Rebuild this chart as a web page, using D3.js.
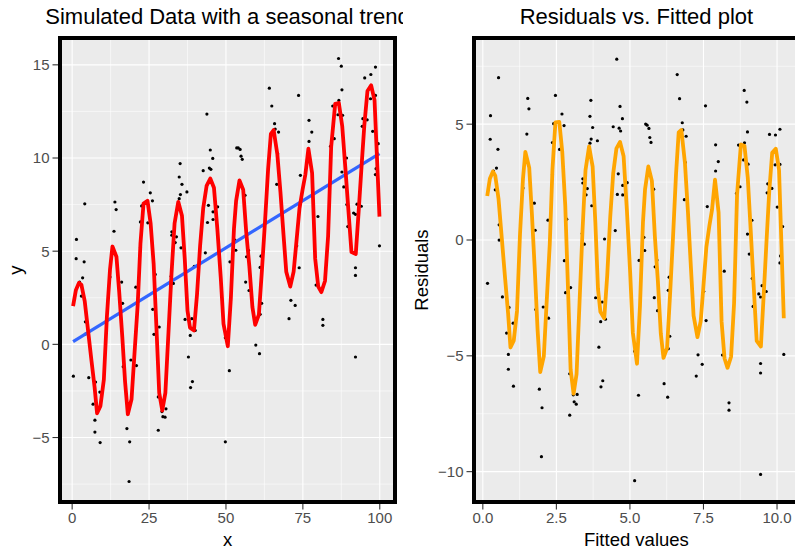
<!DOCTYPE html>
<html>
<head>
<meta charset="utf-8">
<script src="https://cdn.jsdelivr.net/npm/d3@7"></script>
<style>
  body { margin: 0; background: #ffffff; }
  text { font-family: "Liberation Sans", Arial, sans-serif; }
</style>
</head>
<body>
<div id="main"></div>
<script>

// simulated points (x, y)
var pointX = [1.4, 4.1, 1.3, 3.9, 13.9, 14.3, 13.6, 23.2, 25.4, 26.1, 22.6, 22.2, 24.6, 22.2,
  35.1, 34.8, 35.7, 37.3, 35.2, 34.8, 32.4, 32.4, 33.9, 33.5, 35.4,
  43.8, 44.9, 45.7, 44.6, 45.1, 42.6, 44.3, 47.3, 45.8, 44.0, 45.8, 43.3,
  53.5, 54.0, 54.6, 54.9, 55.3, 56.2, 52.9, 53.2, 51.3, 57.3, 56.7, 61.4, 61.1,
  64.1, 64.9, 65.8, 66.0, 67.1, 66.8, 66.5, 73.6, 77.0, 77.9, 77.0, 76.6, 74.2, 79.9, 73.8,
  86.6, 87.5, 87.7, 86.7, 84.7, 86.4, 87.9, 84.0, 85.2, 89.2, 87.7, 88.3, 89.3, 89.6,
  91.5, 92.1, 92.6, 94.0, 95.1, 97.1, 98.6, 97.0, 98.6, 94.5, 95.9, 94.3, 97.7, 99.5,
  98.8, 98.6, 99.9, 92.1, 73.0,
  3.4, 2.4, 3.0, 4.3, 0.4, 5.4, 7.6, 6.8, 7.4, 7.4, 9.1, 12.3, 16.1, 16.4, 20.7,
  16.6, 19.1, 20.9, 17.8, 18.7, 18.5, 27.0, 26.2, 28.3, 26.6, 28.0, 29.2, 29.5, 30.2, 30.5, 28.0,
  32.9, 32.2, 36.7, 38.9, 40.0, 38.4, 37.8, 39.1, 38.5, 49.8, 51.1, 49.8,
  56.4, 57.5, 61.6, 61.1, 59.7, 60.9, 71.1, 72.5, 70.5, 79.3, 79.8, 81.5, 81.5, 92.1, 92.1,
  4.3, 9.0, 39.7];
var pointY = [5.63, 7.54, 4.6, 4.43, 7.64, 7.23, 6.07, 8.71, 8.13, 7.70, 7.43, 6.57, 6.52, 5.18,
  9.70, 8.98, 8.59, 8.18, 8.04, 7.82, 6.04, 5.86, 5.77, 5.46, 5.18,
  12.36, 10.43, 9.98, 9.46, 9.39, 9.32, 7.46, 7.38, 7.11, 6.54, 6.70, 4.91,
  10.54, 10.54, 10.46, 10.10, 9.93, 8.00, 5.59, 5.05, 4.43, 5.05, 4.70, 4.73, 4.13,
  13.75, 12.79, 11.84, 11.55, 11.39, 10.23, 8.59, 13.36, 12.02, 11.39, 10.89, 9.93, 9.07, 6.86, 4.11,
  15.34, 14.93, 13.66, 13.09, 12.79, 12.32, 12.29, 10.63, 11.04, 10.00, 9.25, 8.45, 7.50, 6.32,
  7.05, 6.98, 7.52, 7.41, 14.30, 14.48, 14.88, 13.18, 13.36, 12.11, 12.05, 11.70, 11.43, 10.77,
  9.43, 9.11, 5.29, 4.11, 5.29,
  3.57, 3.34, 2.59, 1.21, -1.71, -1.79, -2.02, -3.21, -4.07, -4.71, -5.27, 3.61, 3.34, 2.20, 3.07,
  -1.20, -0.84, -1.14, -4.52, -5.23, -7.36, 3.75, 1.88, 0.93, 0.54, -2.82, -3.61, -3.88, -3.91, -3.46, -4.61,
  3.27, 3.66, 1.34, 1.38, 0.75, 0.48, -0.68, -2.00, -2.32, 0.36, -1.41, -5.23,
  3.34, 2.89, 2.20, 1.61, -0.04, -0.50, 2.36, 2.09, 1.38, 3.18, 3.25, 1.34, 1.02, 3.70, -0.68,
  0.55, -2.56, 4.18];

// seasonal fit (red line) vertices
var seasonalX = [0.3, 1.2, 2.2, 3.0, 4.1, 5.2, 6.3, 7.3, 8.1, 9.2, 10.3, 11.3, 12.3, 13.1, 14.4, 15.3,
  16.3, 17.2, 18.1, 19.3, 20.3, 21.3, 22.2, 23.2, 24.5, 25.5, 26.5, 27.4, 28.3, 29.3, 30.3, 31.3,
  32.3, 33.3, 34.5, 35.7, 36.6, 37.5, 38.3, 39.6, 40.6, 41.6, 42.6, 43.7, 44.9, 46.1, 47.2, 48.3,
  49.2, 50.6, 51.6, 52.6, 53.3, 54.4, 55.6, 56.6, 57.6, 58.6, 59.5, 60.7, 61.7, 62.7, 63.7, 64.6,
  65.5, 66.7, 67.7, 68.7, 69.6, 70.9, 72.0, 72.9, 73.9, 74.9, 75.8, 76.8, 78.0, 79.0, 80.0, 81.0,
  82.2, 83.2, 84.2, 85.5, 86.7, 87.8, 88.8, 89.8, 90.8, 92.2, 93.2, 94.1, 95.0, 96.0, 97.2, 98.3, 99.9];
var seasonalY = [2.05, 2.9, 3.3, 3.2, 2.3, 0.7, -0.9, -2.3, -3.7, -3.3, -1.9, 1.5, 4.0, 5.25, 4.7, 2.8,
  0.4, -2.0, -3.75, -2.95, -0.4, 2.1, 5.4, 7.55, 7.7, 6.5, 4.3, 0.9, -2.6, -3.55, -2.6, 0.6,
  3.8, 6.5, 7.65, 6.9, 4.6, 1.8, 0.9, 0.75, 2.7, 5.3, 7.3, 8.5, 8.9, 8.4, 6.2, 3.6,
  1.1, -0.1, 2.5, 6.2, 7.7, 8.8, 8.3, 6.0, 4.2, 2.0, 1.05, 1.6, 4.0, 6.6, 9.4, 11.3,
  11.5, 10.2, 8.2, 5.9, 3.9, 3.1, 3.9, 5.5, 7.3, 8.3, 9.1, 10.5, 9.2, 4.6, 3.1, 2.8,
  3.4, 5.8, 10.6, 12.9, 12.95, 11.7, 9.5, 7.2, 4.95, 4.85, 7.3, 9.6, 11.8, 13.6, 13.9, 13.1, 6.85];

// linear trend (blue line) end points
var trendX = [0.3, 99.9];
var trendY = [0.15, 10.23];

var leftXTicks = [0, 25, 50, 75, 100];
var leftYTicks = [-5, 0, 5, 10, 15];
var rightXTicks = [0, 2.5, 5, 7.5, 10];
var rightYTicks = [-10, -5, 0, 5];

var titles = ["Simulated Data with a seasonal trend", "Residuals vs. Fitted plot"];

// fitted values / residuals from the trend line
var slope = (trendY[1] - trendY[0]) / (trendX[1] - trendX[0]);
var intercept = trendY[0] - slope * trendX[0];
function fit(x) { return intercept + slope * x; }

var points = pointX.map(function(x, i) { return {x: x, y: pointY[i]}; });
var seasonal = seasonalX.map(function(x, i) { return {x: x, y: seasonalY[i]}; });
var trend = trendX.map(function(x, i) { return {x: x, y: trendY[i]}; });
var resid = points.map(function(d) { return {x: fit(d.x), y: d.y - fit(d.x)}; });
var residLine = seasonal.map(function(d) { return {x: fit(d.x), y: d.y - fit(d.x)}; });

var width = 795, height = 550;

var svg = d3.select("#main").append("svg")
  .attr("width", width)
  .attr("height", height);

var defs = svg.append("defs");
defs.append("clipPath").attr("id", "leftclip")
  .append("rect").attr("x", 0).attr("y", 0).attr("width", 403).attr("height", height);

function panel(opts) {
  var x = d3.scaleLinear().domain(opts.xDomain).range([opts.left, opts.right]);
  var y = d3.scaleLinear().domain(opts.yDomain).range([opts.bottom, opts.top]);
  var g = svg.append("g");

  g.append("rect")
    .attr("x", opts.left).attr("y", opts.top)
    .attr("width", opts.right - opts.left).attr("height", opts.bottom - opts.top)
    .attr("fill", "#EBEBEB");

  // minor grid
  var xMinor = opts.xTicks.slice(0, -1).map(function(t, i) { return (t + opts.xTicks[i + 1]) / 2; });
  var yMinor = opts.yTicks.slice(0, -1).map(function(t, i) { return (t + opts.yTicks[i + 1]) / 2; });
  yMinor.unshift(opts.yTicks[0] - (opts.yTicks[1] - opts.yTicks[0]) / 2);
  yMinor.push(opts.yTicks[opts.yTicks.length - 1] + (opts.yTicks[1] - opts.yTicks[0]) / 2);
  yMinor = yMinor.filter(function(v) { return v > opts.yDomain[0] && v < opts.yDomain[1]; });

  g.selectAll(".vminor").data(xMinor).enter().append("line")
    .attr("x1", function(d) { return x(d); }).attr("x2", function(d) { return x(d); })
    .attr("y1", opts.top).attr("y2", opts.bottom)
    .attr("stroke", "#ffffff").attr("stroke-width", 0.55);
  g.selectAll(".hminor").data(yMinor).enter().append("line")
    .attr("y1", function(d) { return y(d); }).attr("y2", function(d) { return y(d); })
    .attr("x1", opts.left).attr("x2", opts.right)
    .attr("stroke", "#ffffff").attr("stroke-width", 0.55);
  g.selectAll(".vmajor").data(opts.xTicks).enter().append("line")
    .attr("x1", function(d) { return x(d); }).attr("x2", function(d) { return x(d); })
    .attr("y1", opts.top).attr("y2", opts.bottom)
    .attr("stroke", "#ffffff").attr("stroke-width", 1.1);
  g.selectAll(".hmajor").data(opts.yTicks).enter().append("line")
    .attr("y1", function(d) { return y(d); }).attr("y2", function(d) { return y(d); })
    .attr("x1", opts.left).attr("x2", opts.right)
    .attr("stroke", "#ffffff").attr("stroke-width", 1.1);

  // points
  g.selectAll(".pt").data(opts.points).enter().append("circle")
    .attr("cx", function(d) { return x(d.x); })
    .attr("cy", function(d) { return y(d.y); })
    .attr("r", 1.6)
    .attr("fill", "#000000");

  var line = d3.line().x(function(d) { return x(d.x); }).y(function(d) { return y(d.y); });
  opts.lines.forEach(function(l) {
    g.append("path").datum(l.data)
      .attr("d", line)
      .attr("fill", "none")
      .attr("stroke", l.color)
      .attr("stroke-width", l.width)
      .attr("stroke-linejoin", "round");
  });

  // border
  g.append("rect")
    .attr("x", opts.left).attr("y", opts.top)
    .attr("width", opts.right - opts.left).attr("height", opts.bottom - opts.top)
    .attr("fill", "none").attr("stroke", "#000000").attr("stroke-width", 4);

  // ticks + labels
  g.selectAll(".ytick").data(opts.yTicks).enter().append("line")
    .attr("x1", opts.left - 2 - 5.5).attr("x2", opts.left - 2)
    .attr("y1", function(d) { return y(d); }).attr("y2", function(d) { return y(d); })
    .attr("stroke", "#333333").attr("stroke-width", 1.1);
  g.selectAll(".ylab").data(opts.yTicks).enter().append("text")
    .attr("x", opts.left - 10.5)
    .attr("y", function(d) { return y(d); })
    .attr("dy", "0.36em")
    .attr("text-anchor", "end")
    .attr("font-size", 15)
    .attr("fill", "#4D4D4D")
    .text(opts.yFormat);
  g.selectAll(".xtick").data(opts.xTicks).enter().append("line")
    .attr("x1", function(d) { return x(d); }).attr("x2", function(d) { return x(d); })
    .attr("y1", opts.bottom + 2).attr("y2", opts.bottom + 7.5)
    .attr("stroke", "#333333").attr("stroke-width", 1.1);
  g.selectAll(".xlab").data(opts.xTicks).enter().append("text")
    .attr("x", function(d) { return x(d); })
    .attr("y", 523)
    .attr("text-anchor", "middle")
    .attr("font-size", 15)
    .attr("fill", "#4D4D4D")
    .text(opts.xFormat);

  var cx = (opts.left + Math.min(opts.right, 798.8)) / 2;
  g.append("text")
    .attr("x", cx).attr("y", 546)
    .attr("text-anchor", "middle")
    .attr("font-size", 18.5)
    .attr("fill", "#000000")
    .text(opts.xTitle);
  g.append("text")
    .attr("transform", "translate(" + opts.yTitleX + "," + ((opts.top + opts.bottom) / 2) + ") rotate(-90)")
    .attr("text-anchor", "middle")
    .attr("font-size", 18.5)
    .attr("fill", "#000000")
    .text(opts.yTitle);
  var t = g.append("text")
    .attr("x", cx).attr("y", 24)
    .attr("text-anchor", "middle")
    .attr("font-size", 22)
    .attr("fill", "#000000")
    .text(opts.title);
  if (opts.clip) t.attr("clip-path", "url(#" + opts.clip + ")");
}

var fmt = d3.format("d");

panel({
  left: 60, right: 395, top: 38, bottom: 502,
  xDomain: [-3.95, 104.95], yDomain: [-8.46, 16.44],
  xTicks: leftXTicks, yTicks: leftYTicks,
  xFormat: fmt, yFormat: fmt,
  points: points,
  lines: [
    {data: trend, color: "#3366FF", width: 3.2},
    {data: seasonal, color: "#FF0000", width: 3.8}
  ],
  xTitle: "x", yTitle: "y", yTitleX: 21.5,
  title: titles[0], clip: "leftclip"
});

panel({
  left: 474, right: 798.8, top: 38, bottom: 502,
  xDomain: [-0.3, 10.74], yDomain: [-11.31, 8.72],
  xTicks: rightXTicks, yTicks: rightYTicks,
  xFormat: d3.format(".1f"), yFormat: fmt,
  points: resid,
  lines: [
    {data: residLine, color: "#FFA500", width: 3.8}
  ],
  xTitle: "Fitted values", yTitle: "Residuals", yTitleX: 427.5,
  title: titles[1]
});

</script>
</body>
</html>
